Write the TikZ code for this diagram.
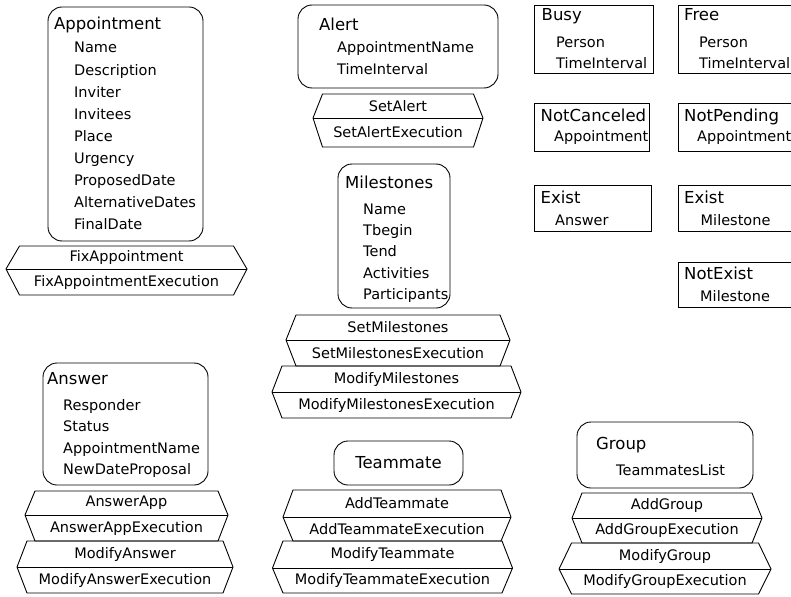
\documentclass[tikz,border=0pt]{standalone}
\usepackage{fontspec}
\setmainfont{DejaVu Sans}
\newcommand\actbox[9]{%
  \draw[edge] (#2-#3,#5) -- (#2+#3,#5) -- (#2+#4,#6) -- (#2+#3,#7) -- (#2-#3,#7) -- (#2-#4,#6) -- cycle;
  \draw[edge] (#2-#4,#6) -- (#2+#4,#6);
  \node[act] (#1a) at (#2,{(#5+#6)/2}) {#8};
  \node[act] (#1b) at (#2,{(#6+#7)/2}) {#9};
}
\tikzset{
  edge/.style={draw=black, line width=0.9pt, line join=miter},
  entity/.style={draw=black, line width=0.9pt, rounded corners=14pt},
  pred/.style={draw=black, line width=0.9pt},
  ttl/.style={font=\fontsize{16.5}{18}\selectfont, anchor=base west, inner sep=0pt},
  att/.style={font=\fontsize{14.5}{16}\selectfont, anchor=base west, inner sep=0pt},
  act/.style={font=\fontsize{14.5}{16}\selectfont, inner sep=0pt},
}
\begin{document}
\begin{tikzpicture}[x=1pt,y=-1pt]
\useasboundingbox (0,0) rectangle (791,596);
\clip (0,0) rectangle (791,596);
\fill[white] (0,0) rectangle (791,596);

% ---------- Appointment ----------
\draw[entity] (48,7) rectangle (203,241);
\node[ttl] (appT) at (54,30) {Appointment};
\node[att] (app1) at (74,53) {Name};
\node[att] (app2) at (74,75.1) {Description};
\node[att] (app3) at (74,97.2) {Inviter};
\node[att] (app4) at (74,119.3) {Invitees};
\node[att] (app5) at (74,141.4) {Place};
\node[att] (app6) at (74,163.5) {Urgency};
\node[att] (app7) at (74,185.6) {ProposedDate};
\node[att] (app8) at (74,207.7) {AlternativeDates};
\node[att] (app9) at (74,229.8) {FinalDate};
\actbox{fix}{126.5}{107}{120.5}{246}{269}{295}{FixAppointment}{FixAppointmentExecution}

% ---------- Alert ----------
\draw[entity] (298,5) rectangle (498,88);
\node[ttl] (alT) at (319,31) {Alert};
\node[att] (al1) at (337,53) {AppointmentName};
\node[att] (al2) at (337,75) {TimeInterval};
\actbox{sal}{398}{75.5}{85}{94}{118}{147}{SetAlert}{SetAlertExecution}

% ---------- Milestones ----------
\draw[entity] (338,164) rectangle (450,308);
\node[ttl] (msT) at (345,188) {Milestones};
\node[att] (ms1) at (363,214) {Name};
\node[att] (ms2) at (363,235.3) {Tbegin};
\node[att] (ms3) at (363,256.6) {Tend};
\node[att] (ms4) at (363,278) {Activities};
\node[att] (ms5) at (363,299.3) {Participants};
\actbox{sms}{398}{102}{112}{315}{340}{366}{SetMilestones}{SetMilestonesExecution}
\actbox{mms}{396.5}{114.5}{124.5}{366}{392}{418}{ModifyMilestones}{ModifyMilestonesExecution}

% ---------- Answer ----------
\draw[entity] (43,363) rectangle (208,485);
\node[ttl] (anT) at (47,384) {Answer};
\node[att] (an1) at (63,410) {Responder};
\node[att] (an2) at (63,431.5) {Status};
\node[att] (an3) at (63,453) {AppointmentName};
\node[att] (an4) at (63,474.5) {NewDateProposal};
\actbox{aap}{126.5}{91.5}{101.5}{491}{515}{541}{AnswerApp}{AnswerAppExecution}
\actbox{man}{125}{98}{108}{541}{567}{593}{ModifyAnswer}{ModifyAnswerExecution}

% ---------- Teammate ----------
\draw[entity] (334,441) rectangle (463,485);
\node[act, font=\fontsize{16.5}{18}\selectfont] (tmT) at (398.5,463) {Teammate};
\actbox{atm}{397}{104}{114}{490}{517}{541}{AddTeammate}{AddTeammateExecution}
\actbox{mtm}{392.5}{109.5}{120}{541}{568}{593}{ModifyTeammate}{ModifyTeammateExecution}

% ---------- Group ----------
\draw[entity] (577,422) rectangle (753,488);
\node[ttl] (grT) at (596,449) {Group};
\node[att] (gr1) at (616,475) {TeammatesList};
\actbox{agr}{667}{85}{95}{493}{518}{543}{AddGroup}{AddGroupExecution}
\actbox{mgr}{665}{93.5}{106}{543}{569}{594}{ModifyGroup}{ModifyGroupExecution}

% ---------- Predicates ----------
\draw[pred] (534,5) rectangle (653,73);
\node[ttl] (buT) at (541.5,21) {Busy};
\node[att] (bu1) at (556,48) {Person};
\node[att] (bu2) at (556,68.5) {TimeInterval};

\draw[pred] (678,5) rectangle (820,73);
\node[ttl] (frT) at (684,21) {Free};
\node[att] (fr1) at (699,48) {Person};
\node[att] (fr2) at (699,68.5) {TimeInterval};

\draw[pred] (534,103) rectangle (649,151);
\node[ttl] (ncT) at (540.5,122) {NotCanceled};
\node[att] (nc1) at (554,142) {Appointment};

\draw[pred] (678,103) rectangle (820,151);
\node[ttl] (npT) at (684,122) {NotPending};
\node[att] (np1) at (697,142) {Appointment};

\draw[pred] (534,185) rectangle (651,231);
\node[ttl] (eaT) at (540.5,203) {Exist};
\node[att] (ea1) at (555,225) {Answer};

\draw[pred] (678,185) rectangle (820,231);
\node[ttl] (emT) at (684,203) {Exist};
\node[att] (em1) at (700.5,225) {Milestone};

\draw[pred] (678,262) rectangle (820,307);
\node[ttl] (neT) at (684,279) {NotExist};
\node[att] (ne1) at (700,301) {Milestone};
\end{tikzpicture}
\end{document}
